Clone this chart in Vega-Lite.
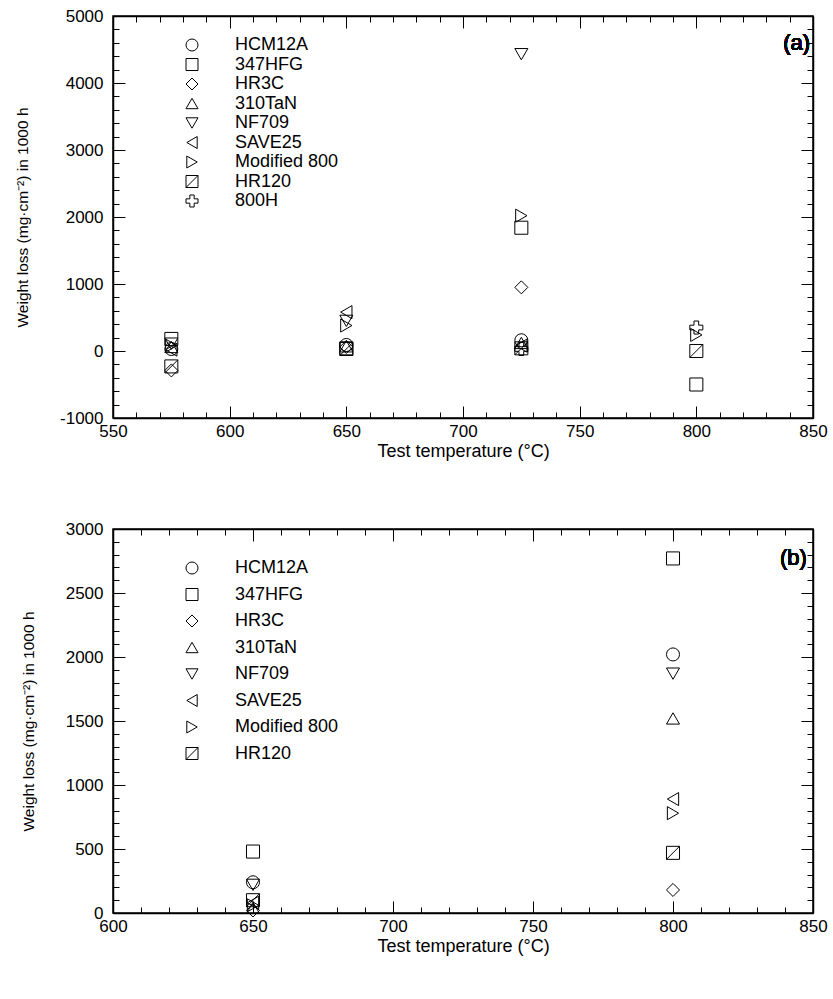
{
  "$schema": "https://vega.github.io/schema/vega-lite/v6.json",
  "padding": {"left": 14, "top": 6, "right": 5, "bottom": 5},
  "background": "white",
  "datasets": {
    "a": [
      {"temp": 575, "loss": 30, "alloy": "HCM12A"},
      {"temp": 575, "loss": 180, "alloy": "347HFG"},
      {"temp": 575, "loss": -290, "alloy": "HR3C"},
      {"temp": 575, "loss": 60, "alloy": "310TaN"},
      {"temp": 575, "loss": 110, "alloy": "NF709"},
      {"temp": 575, "loss": 20, "alloy": "SAVE25"},
      {"temp": 575, "loss": 80, "alloy": "Modified 800"},
      {"temp": 575, "loss": -230, "alloy": "HR120"},
      {"temp": 650, "loss": 90, "alloy": "HCM12A"},
      {"temp": 650, "loss": 40, "alloy": "347HFG"},
      {"temp": 650, "loss": 60, "alloy": "HR3C"},
      {"temp": 650, "loss": 70, "alloy": "310TaN"},
      {"temp": 650, "loss": 450, "alloy": "NF709"},
      {"temp": 650, "loss": 580, "alloy": "SAVE25"},
      {"temp": 650, "loss": 380, "alloy": "Modified 800"},
      {"temp": 650, "loss": 30, "alloy": "HR120"},
      {"temp": 725, "loss": 160, "alloy": "HCM12A"},
      {"temp": 725, "loss": 1840, "alloy": "347HFG"},
      {"temp": 725, "loss": 950, "alloy": "HR3C"},
      {"temp": 725, "loss": 120, "alloy": "310TaN"},
      {"temp": 725, "loss": 4430, "alloy": "NF709"},
      {"temp": 725, "loss": 80, "alloy": "SAVE25"},
      {"temp": 725, "loss": 2020, "alloy": "Modified 800"},
      {"temp": 725, "loss": 40, "alloy": "HR120"},
      {"temp": 725, "loss": 30, "alloy": "800H"},
      {"temp": 800, "loss": 240, "alloy": "Modified 800"},
      {"temp": 800, "loss": 0, "alloy": "HR120"},
      {"temp": 800, "loss": -500, "alloy": "347HFG"},
      {"temp": 800, "loss": 350, "alloy": "800H"}
    ],
    "b": [
      {"temp": 650, "loss": 240, "alloy": "HCM12A"},
      {"temp": 650, "loss": 480, "alloy": "347HFG"},
      {"temp": 650, "loss": 20, "alloy": "HR3C"},
      {"temp": 650, "loss": 40, "alloy": "310TaN"},
      {"temp": 650, "loss": 220, "alloy": "NF709"},
      {"temp": 650, "loss": 80, "alloy": "SAVE25"},
      {"temp": 650, "loss": 60, "alloy": "Modified 800"},
      {"temp": 650, "loss": 100, "alloy": "HR120"},
      {"temp": 800, "loss": 2020, "alloy": "HCM12A"},
      {"temp": 800, "loss": 2770, "alloy": "347HFG"},
      {"temp": 800, "loss": 180, "alloy": "HR3C"},
      {"temp": 800, "loss": 1520, "alloy": "310TaN"},
      {"temp": 800, "loss": 1870, "alloy": "NF709"},
      {"temp": 800, "loss": 890, "alloy": "SAVE25"},
      {"temp": 800, "loss": 780, "alloy": "Modified 800"},
      {"temp": 800, "loss": 470, "alloy": "HR120"}
    ]
  },
  "spacing": 58,
  "vconcat": [
    {
      "width": 700,
      "height": 402,
      "data": {"name": "a"},
      "layer": [
        {
          "mark": {"type": "point", "filled": false, "stroke": "black", "strokeWidth": 1, "size": 170, "opacity": 1},
          "encoding": {
            "x": {"field": "temp", "type": "quantitative",
              "scale": {"domain": [550, 850], "nice": false, "zero": false},
              "axis": {"orient": "bottom", "title": "Test temperature (°C)", "titleFontSize": 18,
                "values": [550, 600, 650, 700, 750, 800, 850],
                "labelExpr": "'' + datum.value",
                "ticks": false, "labelPadding": 5, "titlePadding": 3}},
            "y": {"field": "loss", "type": "quantitative",
              "scale": {"domain": [-1000, 5000], "nice": false, "zero": false},
              "axis": {"orient": "left", "title": "Weight loss (mg·cm⁻²) in 1000 h", "titleFontSize": 15.5,
                "values": [-1000, 0, 1000, 2000, 3000, 4000, 5000],
                "labelExpr": "'' + datum.value",
                "ticks": false, "labelPadding": 10, "titlePadding": 29}},
            "shape": {"field": "alloy", "type": "nominal",
              "scale": {"domain": ["HCM12A", "347HFG", "HR3C", "310TaN", "NF709", "SAVE25", "Modified 800", "HR120", "800H"],
                "range": ["circle", "square", "M0,-1L1,0L0,1L-1,0Z", "triangle-up", "triangle-down", "triangle-left", "triangle-right", "M-1,-1L1,-1L1,1L-1,1ZM-1,1L1,-1", "M-0.36,-1L0.36,-1L0.36,-0.36L1,-0.36L1,0.36L0.36,0.36L0.36,1L-0.36,1L-0.36,0.36L-1,0.36L-1,-0.36L-0.36,-0.36Z"]},
              "legend": {"orient": "none", "legendX": 70, "legendY": 20, "title": null, "padding": 0,
                "symbolSize": 144, "symbolStrokeColor": "black", "symbolStrokeWidth": 1, "symbolFillColor": "transparent",
                "labelFontSize": 18, "labelFont": "Liberation Sans", "labelColor": "black", "labelOffset": 34, "rowPadding": 1.5}}
          }
        },
        {
          "mark": {"type": "point", "opacity": 0},
          "encoding": {
            "x": {"field": "temp", "type": "quantitative",
              "scale": {"domain": [550, 850], "nice": false, "zero": false},
              "axis": {"orient": "top", "title": null, "labels": false, "domain": true, "values": [550, 600, 650, 700, 750, 800, 850], "ticks": false}},
            "y": {"field": "loss", "type": "quantitative",
              "scale": {"domain": [-1000, 5000], "nice": false, "zero": false},
              "axis": {"orient": "right", "title": null, "labels": false, "domain": true, "values": [-1000, 0, 1000, 2000, 3000, 4000, 5000], "ticks": false}}
          }
        },
        {
          "mark": {"type": "point", "opacity": 0},
          "encoding": {
            "x": {"field": "temp", "type": "quantitative",
              "scale": {"domain": [550, 850], "nice": false, "zero": false},
              "axis": {"orient": "bottom", "title": null, "labels": false, "domain": false, "offset": -12, "tickSize": 12,
                "values": [550, 600, 650, 700, 750, 800, 850]}},
            "y": {"field": "loss", "type": "quantitative",
              "scale": {"domain": [-1000, 5000], "nice": false, "zero": false},
              "axis": {"orient": "left", "title": null, "labels": false, "domain": false, "offset": -12, "tickSize": 12,
                "values": [-1000, 0, 1000, 2000, 3000, 4000, 5000]}}
          }
        },
        {
          "mark": {"type": "point", "opacity": 0},
          "encoding": {
            "x": {"field": "temp", "type": "quantitative",
              "scale": {"domain": [550, 850], "nice": false, "zero": false},
              "axis": {"orient": "top", "title": null, "labels": false, "domain": false, "offset": -12, "tickSize": 12,
                "values": [550, 600, 650, 700, 750, 800, 850]}},
            "y": {"field": "loss", "type": "quantitative",
              "scale": {"domain": [-1000, 5000], "nice": false, "zero": false},
              "axis": {"orient": "right", "title": null, "labels": false, "domain": false, "offset": -12, "tickSize": 12,
                "values": [-1000, 0, 1000, 2000, 3000, 4000, 5000]}}
          }
        },
        {
          "mark": {"type": "point", "opacity": 0},
          "encoding": {
            "x": {"field": "temp", "type": "quantitative",
              "scale": {"domain": [550, 850], "nice": false, "zero": false},
              "axis": {"orient": "bottom", "title": null, "labels": false, "domain": false, "offset": -6, "tickSize": 6,
                "values": [560,570,580,590,610,620,630,640,660,670,680,690,710,720,730,740,760,770,780,790,810,820,830,840]}},
            "y": {"field": "loss", "type": "quantitative",
              "scale": {"domain": [-1000, 5000], "nice": false, "zero": false},
              "axis": {"orient": "left", "title": null, "labels": false, "domain": false, "offset": -6, "tickSize": 6,
                "values": [-800,-600,-400,-200,200,400,600,800,1200,1400,1600,1800,2200,2400,2600,2800,3200,3400,3600,3800,4200,4400,4600,4800]}}
          }
        },
        {
          "mark": {"type": "point", "opacity": 0},
          "encoding": {
            "x": {"field": "temp", "type": "quantitative",
              "scale": {"domain": [550, 850], "nice": false, "zero": false},
              "axis": {"orient": "top", "title": null, "labels": false, "domain": false, "offset": -6, "tickSize": 6,
                "values": [560,570,580,590,610,620,630,640,660,670,680,690,710,720,730,740,760,770,780,790,810,820,830,840]}},
            "y": {"field": "loss", "type": "quantitative",
              "scale": {"domain": [-1000, 5000], "nice": false, "zero": false},
              "axis": {"orient": "right", "title": null, "labels": false, "domain": false, "offset": -6, "tickSize": 6,
                "values": [-800,-600,-400,-200,200,400,600,800,1200,1400,1600,1800,2200,2400,2600,2800,3200,3400,3600,3800,4200,4400,4600,4800]}}
          }
        },
        {
          "mark": {"type": "text", "fontSize": 22, "fontWeight": "normal", "font": "Liberation Sans", "fill": "black", "align": "center", "baseline": "middle"},
          "encoding": {
            "x": {"datum": 843, "type": "quantitative", "scale": {"domain": [550, 850], "nice": false, "zero": false}, "axis": null},
            "y": {"datum": 4600, "type": "quantitative", "scale": {"domain": [-1000, 5000], "nice": false, "zero": false}, "axis": null},
            "text": {"value": "(a)"}
          }
        }
      ],
      "resolve": {"axis": {"x": "independent", "y": "independent"}}
    },
    {
      "width": 700,
      "height": 384,
      "data": {"name": "b"},
      "layer": [
        {
          "mark": {"type": "point", "filled": false, "stroke": "black", "strokeWidth": 1, "size": 170, "opacity": 1},
          "encoding": {
            "x": {"field": "temp", "type": "quantitative",
              "scale": {"domain": [600, 850], "nice": false, "zero": false},
              "axis": {"orient": "bottom", "title": "Test temperature (°C)", "titleFontSize": 18,
                "values": [600, 650, 700, 750, 800, 850],
                "labelExpr": "'' + datum.value",
                "ticks": false, "labelPadding": 5, "titlePadding": 3}},
            "y": {"field": "loss", "type": "quantitative",
              "scale": {"domain": [0, 3000], "nice": false, "zero": false},
              "axis": {"orient": "left", "title": "Weight loss (mg·cm⁻²) in 1000 h", "titleFontSize": 15.5,
                "values": [0, 500, 1000, 1500, 2000, 2500, 3000],
                "labelExpr": "'' + datum.value",
                "ticks": false, "labelPadding": 10, "titlePadding": 29}},
            "shape": {"field": "alloy", "type": "nominal",
              "scale": {"domain": ["HCM12A", "347HFG", "HR3C", "310TaN", "NF709", "SAVE25", "Modified 800", "HR120"],
                "range": ["circle", "square", "M0,-1L1,0L0,1L-1,0Z", "triangle-up", "triangle-down", "triangle-left", "triangle-right", "M-1,-1L1,-1L1,1L-1,1ZM-1,1L1,-1"]},
              "legend": {"orient": "none", "legendX": 70, "legendY": 30, "title": null, "padding": 0,
                "symbolSize": 144, "symbolStrokeColor": "black", "symbolStrokeWidth": 1, "symbolFillColor": "transparent",
                "labelFontSize": 18, "labelFont": "Liberation Sans", "labelColor": "black", "labelOffset": 34, "rowPadding": 8.5}}
          }
        },
        {
          "mark": {"type": "point", "opacity": 0},
          "encoding": {
            "x": {"field": "temp", "type": "quantitative",
              "scale": {"domain": [600, 850], "nice": false, "zero": false},
              "axis": {"orient": "top", "title": null, "labels": false, "domain": true, "values": [600, 650, 700, 750, 800, 850], "ticks": false}},
            "y": {"field": "loss", "type": "quantitative",
              "scale": {"domain": [0, 3000], "nice": false, "zero": false},
              "axis": {"orient": "right", "title": null, "labels": false, "domain": true, "values": [0, 500, 1000, 1500, 2000, 2500, 3000], "ticks": false}}
          }
        },
        {
          "mark": {"type": "point", "opacity": 0},
          "encoding": {
            "x": {"field": "temp", "type": "quantitative",
              "scale": {"domain": [600, 850], "nice": false, "zero": false},
              "axis": {"orient": "bottom", "title": null, "labels": false, "domain": false, "offset": -12, "tickSize": 12,
                "values": [600, 650, 700, 750, 800, 850]}},
            "y": {"field": "loss", "type": "quantitative",
              "scale": {"domain": [0, 3000], "nice": false, "zero": false},
              "axis": {"orient": "left", "title": null, "labels": false, "domain": false, "offset": -12, "tickSize": 12,
                "values": [0, 500, 1000, 1500, 2000, 2500, 3000]}}
          }
        },
        {
          "mark": {"type": "point", "opacity": 0},
          "encoding": {
            "x": {"field": "temp", "type": "quantitative",
              "scale": {"domain": [600, 850], "nice": false, "zero": false},
              "axis": {"orient": "top", "title": null, "labels": false, "domain": false, "offset": -12, "tickSize": 12,
                "values": [600, 650, 700, 750, 800, 850]}},
            "y": {"field": "loss", "type": "quantitative",
              "scale": {"domain": [0, 3000], "nice": false, "zero": false},
              "axis": {"orient": "right", "title": null, "labels": false, "domain": false, "offset": -12, "tickSize": 12,
                "values": [0, 500, 1000, 1500, 2000, 2500, 3000]}}
          }
        },
        {
          "mark": {"type": "point", "opacity": 0},
          "encoding": {
            "x": {"field": "temp", "type": "quantitative",
              "scale": {"domain": [600, 850], "nice": false, "zero": false},
              "axis": {"orient": "bottom", "title": null, "labels": false, "domain": false, "offset": -6, "tickSize": 6,
                "values": [610,620,630,640,660,670,680,690,710,720,730,740,760,770,780,790,810,820,830,840]}},
            "y": {"field": "loss", "type": "quantitative",
              "scale": {"domain": [0, 3000], "nice": false, "zero": false},
              "axis": {"orient": "left", "title": null, "labels": false, "domain": false, "offset": -6, "tickSize": 6,
                "values": [100,200,300,400,600,700,800,900,1100,1200,1300,1400,1600,1700,1800,1900,2100,2200,2300,2400,2600,2700,2800,2900]}}
          }
        },
        {
          "mark": {"type": "point", "opacity": 0},
          "encoding": {
            "x": {"field": "temp", "type": "quantitative",
              "scale": {"domain": [600, 850], "nice": false, "zero": false},
              "axis": {"orient": "top", "title": null, "labels": false, "domain": false, "offset": -6, "tickSize": 6,
                "values": [610,620,630,640,660,670,680,690,710,720,730,740,760,770,780,790,810,820,830,840]}},
            "y": {"field": "loss", "type": "quantitative",
              "scale": {"domain": [0, 3000], "nice": false, "zero": false},
              "axis": {"orient": "right", "title": null, "labels": false, "domain": false, "offset": -6, "tickSize": 6,
                "values": [100,200,300,400,600,700,800,900,1100,1200,1300,1400,1600,1700,1800,1900,2100,2200,2300,2400,2600,2700,2800,2900]}}
          }
        },
        {
          "mark": {"type": "text", "fontSize": 22, "fontWeight": "normal", "font": "Liberation Sans", "fill": "black", "align": "center", "baseline": "middle"},
          "encoding": {
            "x": {"datum": 843, "type": "quantitative", "scale": {"domain": [600, 850], "nice": false, "zero": false}, "axis": null},
            "y": {"datum": 2770, "type": "quantitative", "scale": {"domain": [0, 3000], "nice": false, "zero": false}, "axis": null},
            "text": {"value": "(b)"}
          }
        }
      ],
      "resolve": {"axis": {"x": "independent", "y": "independent"}}
    }
  ],
  "resolve": {"scale": {"shape": "independent"}, "legend": {"shape": "independent"}},
  "config": {
    "view": {"stroke": "black", "strokeWidth": 1.5},
    "axis": {"labelFont": "Liberation Sans", "titleFont": "Liberation Sans", "labelFontSize": 17, "titleFontSize": 17,
      "titleFontWeight": "normal", "labelColor": "black", "titleColor": "black", "tickColor": "black", "tickWidth": 1,
      "domainColor": "black", "domainWidth": 1.5, "grid": false, "labelFlush": false, "labelOverlap": false, "labelBound": false}
  }
}
